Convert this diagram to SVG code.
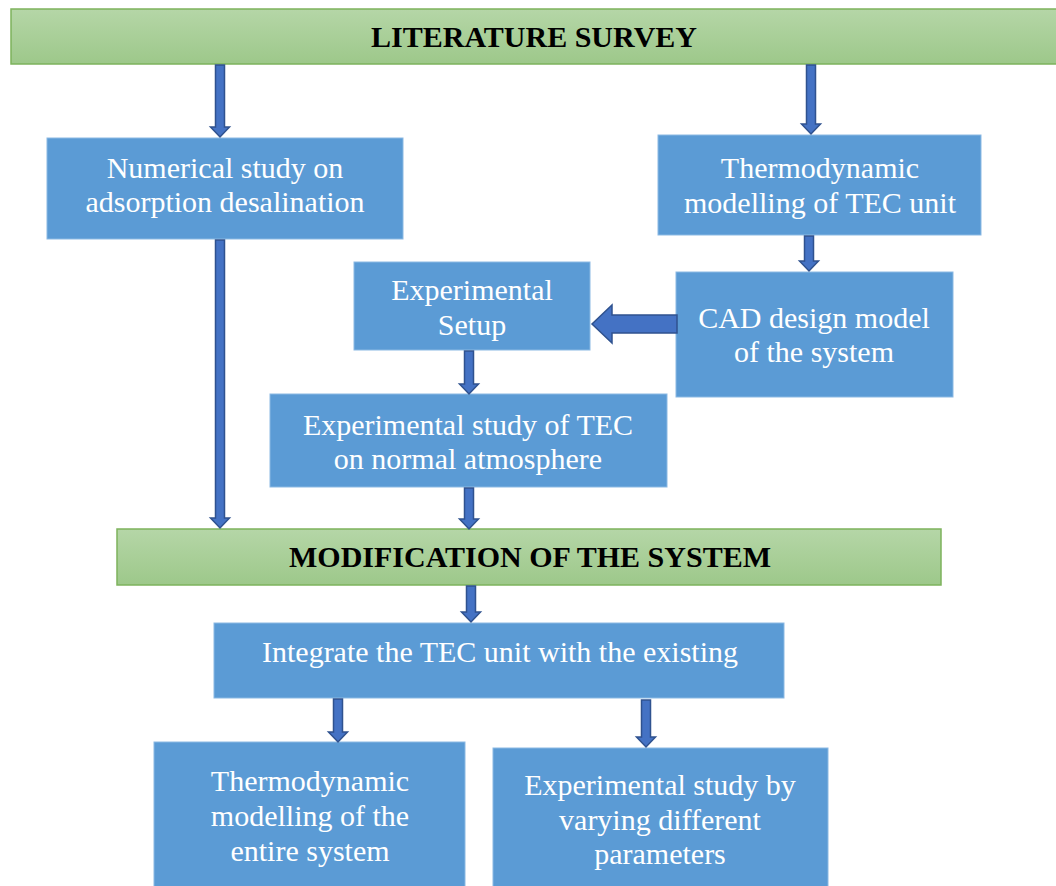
<svg xmlns="http://www.w3.org/2000/svg" width="1056" height="886" viewBox="0 0 1056 886">
<defs>
<linearGradient id="g" x1="0" y1="0" x2="0" y2="1">
<stop offset="0" stop-color="#B5D6A7"/>
<stop offset="1" stop-color="#9DC88A"/>
</linearGradient>
<style>
.gb{fill:url(#g);stroke:#7DB35C;stroke-width:1.5}
.bb{fill:#5B9BD5;stroke:#8BB9E3;stroke-width:1}
.ht{font-family:"Liberation Serif","Times New Roman",serif;font-weight:bold;font-size:30px;fill:#000;text-anchor:middle}
.t{font-family:"Liberation Serif","Times New Roman",serif;font-size:30px;fill:#fff;text-anchor:middle}
.ar{fill:#4472C4;stroke:#2F528F;stroke-width:1.5;stroke-linejoin:miter}
</style>
</defs>
<rect width="1056" height="886" fill="#fff"/>
<g id="literature-survey">
<rect class="gb" x="11" y="9" width="1050" height="55"/>
<text class="ht" x="534" y="47">LITERATURE SURVEY</text>
</g>
<g id="numerical-study">
<rect class="bb" x="47" y="138" width="356" height="101"/>
<text class="t" x="225" y="178">Numerical study on</text>
<text class="t" x="225" y="212">adsorption desalination</text>
</g>
<g id="thermo-tec">
<rect class="bb" x="658" y="135" width="323" height="100"/>
<text class="t" x="820" y="178">Thermodynamic</text>
<text class="t" x="820" y="213">modelling of TEC unit</text>
</g>
<g id="experimental-setup">
<rect class="bb" x="354" y="262" width="236" height="88"/>
<text class="t" x="472" y="300">Experimental</text>
<text class="t" x="472" y="335">Setup</text>
</g>
<g id="cad-design">
<rect class="bb" x="676" y="272" width="277" height="125"/>
<text class="t" x="814" y="328">CAD design model</text>
<text class="t" x="814" y="362">of the system</text>
</g>
<g id="experimental-tec">
<rect class="bb" x="270" y="394" width="397" height="93"/>
<text class="t" x="468" y="435">Experimental study of TEC</text>
<text class="t" x="468" y="469">on normal atmosphere</text>
</g>
<g id="modification">
<rect class="gb" x="117" y="529" width="824" height="56"/>
<text class="ht" x="530" y="567">MODIFICATION OF THE SYSTEM</text>
</g>
<g id="integrate">
<rect class="bb" x="214" y="623" width="570" height="75"/>
<text class="t" x="500" y="662">Integrate the TEC unit with the existing</text>
</g>
<g id="thermo-entire">
<rect class="bb" x="154" y="742" width="311" height="150"/>
<text class="t" x="310" y="791">Thermodynamic</text>
<text class="t" x="310" y="826">modelling of the</text>
<text class="t" x="310" y="861">entire system</text>
</g>
<g id="experimental-varying">
<rect class="bb" x="493" y="748" width="335" height="144"/>
<text class="t" x="660" y="795">Experimental study by</text>
<text class="t" x="660" y="830">varying different</text>
<text class="t" x="660" y="864">parameters</text>
</g>
<g id="connectors">
<polygon class="ar" points="215.5,65 224.5,65 224.5,127 229.5,127 220,137 210.5,127 215.5,127"/>
<polygon class="ar" points="806.5,65 815.5,65 815.5,124 820.5,124 811,134 801.5,124 806.5,124"/>
<polygon class="ar" points="215.5,240 224.5,240 224.5,518 229.5,518 220,528 210.5,518 215.5,518"/>
<polygon class="ar" points="804.5,236 813.5,236 813.5,261 818.5,261 809,271 799.5,261 804.5,261"/>
<polygon class="ar" points="464.5,351 473.5,351 473.5,384 478.5,384 469,394 459.5,384 464.5,384"/>
<polygon class="ar" points="464.5,488 473.5,488 473.5,519 478.5,519 469,529 459.5,519 464.5,519"/>
<polygon class="ar" points="466.5,586 475.5,586 475.5,612 480.5,612 471,622 461.5,612 466.5,612"/>
<polygon class="ar" points="333.5,699 342.5,699 342.5,732 347.5,732 338,742 328.5,732 333.5,732"/>
<polygon class="ar" points="641.5,700 650.5,700 650.5,737 655.5,737 646,747 636.5,737 641.5,737"/>
<polygon class="ar" points="677,315 612,315 612,305 592,324 612,343 612,333 677,333"/>
</g>
</svg>
